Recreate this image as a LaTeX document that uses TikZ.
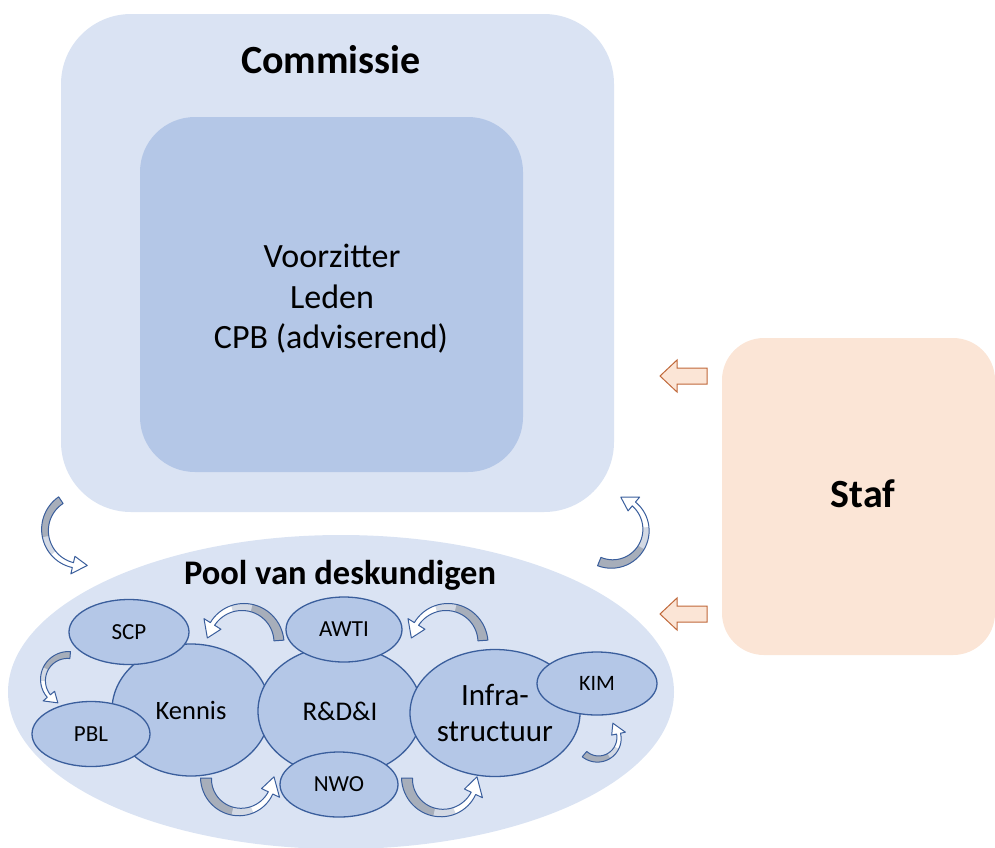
\documentclass[tikz,border=0pt]{standalone}
\usepackage{fontspec}
\setmainfont{Carlito}
\usetikzlibrary{shapes.geometric}
\definecolor{lightblue}{HTML}{DAE3F3}
\definecolor{midblue}{HTML}{B4C7E7}
\definecolor{edgeblue}{HTML}{3A5E9C}
\definecolor{stafcol}{HTML}{FBE5D6}
\definecolor{orangeline}{HTML}{C0683A}
\definecolor{arrgray}{HTML}{A7AEBA}
\definecolor{arrlight}{HTML}{D3D9E4}
% curved block arrow: cx cy r a1 a2 tip tailwidth headendwidth headhalfwidth
\newcommand{\crvarrow}[9]{%
 \begin{scope}[shift={(#1,#2)}]
  \pgfmathsetmacro\amA{#4+0.5*(#5-#4)}
  \pgfmathsetmacro\amB{#4+0.72*(#5-#4)}
  \fill[white] plot[domain=#4:#5, samples=30, variable=\t] ({\t}:{#3+0.5*(#7+(#8-#7)*(\t-(#4))/((#5)-(#4)))}) -- ({#5}:{#3+#9}) -- ({#6}:{#3}) -- ({#5}:{#3-#9}) -- plot[domain=#5:#4, samples=30, variable=\t] ({\t}:{#3-0.5*(#7+(#8-#7)*(\t-(#4))/((#5)-(#4)))}) -- cycle;
  \fill[arrlight] plot[domain=#4:\amB, samples=20, variable=\t] ({\t}:{#3+0.5*(#7+(#8-#7)*(\t-(#4))/((#5)-(#4)))}) -- plot[domain=\amB:#4, samples=20, variable=\t] ({\t}:{#3-0.5*(#7+(#8-#7)*(\t-(#4))/((#5)-(#4)))}) -- cycle;
  \fill[arrgray] plot[domain=#4:\amA, samples=20, variable=\t] ({\t}:{#3+0.5*(#7+(#8-#7)*(\t-(#4))/((#5)-(#4)))}) -- plot[domain=\amA:#4, samples=20, variable=\t] ({\t}:{#3-0.5*(#7+(#8-#7)*(\t-(#4))/((#5)-(#4)))}) -- cycle;
  \draw[edgeblue, line width=1pt, line join=round] plot[domain=#4:#5, samples=30, variable=\t] ({\t}:{#3+0.5*(#7+(#8-#7)*(\t-(#4))/((#5)-(#4)))}) -- ({#5}:{#3+#9}) -- ({#6}:{#3}) -- ({#5}:{#3-#9}) -- plot[domain=#5:#4, samples=30, variable=\t] ({\t}:{#3-0.5*(#7+(#8-#7)*(\t-(#4))/((#5)-(#4)))}) -- cycle;
 \end{scope}}
\begin{document}
\begin{tikzpicture}[x=1pt,y=-1pt,
  panel/.style={rectangle, inner sep=0pt},
  bubble/.style={ellipse, fill=midblue, draw=edgeblue, line width=1.3pt, inner sep=0pt},
  headfont/.style={font=\bfseries\fontsize{40}{48}\selectfont},
  bodyfont/.style={font=\fontsize{34}{41}\selectfont},
  smallfont/.style={font=\fontsize{23}{27}\selectfont},
  blockarrow/.style={fill=stafcol, draw=orangeline, line width=1pt, line join=miter}]
\useasboundingbox (0,0) rectangle (995,847);
% Commissie
\node[panel, fill=lightblue, rounded corners=70pt, minimum width=553pt, minimum height=498pt] (comm) at (337.5,263) {};
\node[panel, fill=midblue, rounded corners=55pt, minimum width=383pt, minimum height=355pt] (inner) at (331.5,294.5) {};
\node[headfont, anchor=base, inner sep=0pt] (commtitle) at (331,73) {Commissie};
\node[bodyfont, anchor=base, inner sep=0pt] (voorz) at (332,267) {Voorzitter};
\node[bodyfont, anchor=base, inner sep=0pt] (leden) at (332,308) {Leden};
\node[bodyfont, anchor=base, inner sep=0pt] (cpb) at (331,348) {CPB (adviserend)};
% Staf
\node[panel, fill=stafcol, rounded corners=42pt, minimum width=273pt, minimum height=317pt] (staf) at (858.5,496.5) {};
\node[headfont, anchor=base, inner sep=0pt] (staftitle) at (863,507) {Staf};
% block arrows
\draw[blockarrow] (660,376) -- (677,360) -- (677,368) -- (707,368) -- (707,384) -- (677,384) -- (677,392) -- cycle;
\draw[blockarrow] (660,614) -- (677,598) -- (677,606) -- (707,606) -- (707,622) -- (677,622) -- (677,630) -- cycle;
% Pool
\node[ellipse, fill=lightblue, inner sep=0pt, minimum width=666pt, minimum height=314pt] (pool) at (341,692) {};
\node[font=\bfseries\fontsize{34.5}{40}\selectfont, anchor=base, inner sep=0pt] (pooltitle) at (340,584) {Pool van deskundigen};
\node[bubble, minimum width=158pt, minimum height=132pt, font=\fontsize{26.5}{31}\selectfont] (kennis) at (191,710) {Kennis};
\node[bubble, minimum width=164pt, minimum height=130pt, font=\fontsize{27}{32}\selectfont] (rdi) at (340,711) {R\&D\&I};
\node[bubble, minimum width=170pt, minimum height=127pt, font=\fontsize{31}{36}\selectfont, align=center] (infra) at (495,713) {Infra-\\structuur};
\node[bubble, minimum width=120pt, minimum height=65pt, smallfont] (scp) at (129,632) {SCP};
\node[bubble, minimum width=118pt, minimum height=65pt, smallfont] (pbl) at (91,734) {PBL};
\node[bubble, minimum width=116pt, minimum height=65pt, smallfont] (awti) at (344,629.5) {AWTI};
\node[bubble, minimum width=118pt, minimum height=65pt, smallfont] (nwo) at (339,784.5) {NWO};
\node[bubble, minimum width=120pt, minimum height=63pt, font=\fontsize{22}{26}\selectfont] (kim) at (597,683.5) {KIM};
% curved arrows
\crvarrow{81}{530}{36}{236}{103}{80}{8}{5}{9}
\crvarrow{612}{530}{34}{112}{-50}{-75}{9}{5}{9}
\crvarrow{68}{680}{25}{275}{140}{114}{7}{4}{7.5}
\crvarrow{243}{643}{36}{-4}{-148}{-172}{10}{5}{10}
\crvarrow{447}{643}{36}{-4}{-148}{-172}{10}{5}{10}
\crvarrow{240}{778}{34}{180}{26}{-2}{11}{5}{10}
\crvarrow{442}{778}{35}{180}{26}{-2}{11}{5}{10}
\crvarrow{598}{738}{21}{130}{-12}{-45}{7}{4}{7}
\end{tikzpicture}
\end{document}
